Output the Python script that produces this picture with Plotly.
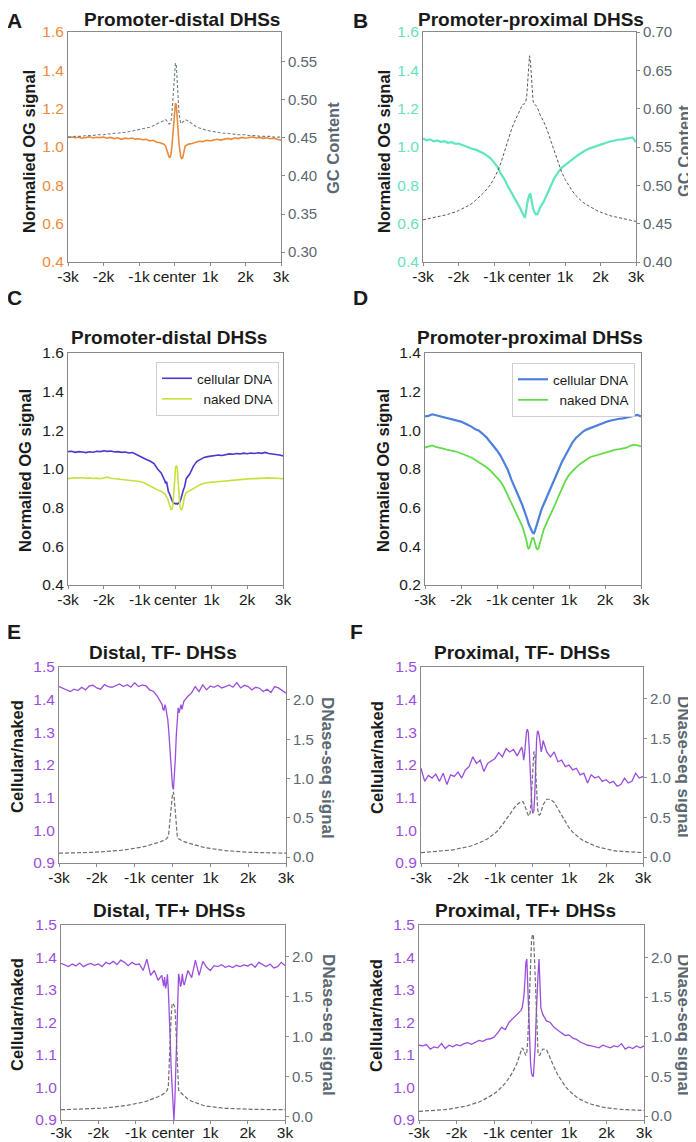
import plotly.graph_objects as go

# The page body adds an 8px margin, so the figure is 8px smaller and all
# reference pixel positions are shifted by that offset.
OFF = 8
W, H = 696 - OFF, 1142 - OFF
FONT = "Liberation Sans, Arial, Helvetica, sans-serif"

# ---------------- data ----------------
pos = [-3000, -2900, -2800, -2700, -2600, -2500, -2400, -2300, -2200, -2100, -2000, -1900, -1800, -1700,
       -1600, -1500, -1400, -1300, -1200, -1100, -1000, -900, -800, -700, -600, -500, -400,
       -300, -275, -250, -225, -200, -175, -150, -125, -100, -75, -50, -25, 0, 25, 50, 75, 100, 125,
       150, 175, 200, 225, 250, 275, 300,
       400, 500, 600, 700, 800, 900, 1000, 1100, 1200, 1300, 1400, 1500, 1600, 1700, 1800, 1900, 2000,
       2100, 2200, 2300, 2400, 2500, 2600, 2700, 2800, 2900, 3000]

xtick_vals = [-3000, -2000, -1000, 0, 1000, 2000, 3000]
xtick_text = ["-3k", "-2k", "-1k", "center", "1k", "2k", "3k"]

# A: promoter-distal OG signal and GC content
og_distal = [1.050, 1.052, 1.048, 1.051, 1.046, 1.050, 1.053, 1.047, 1.051, 1.049, 1.052, 1.046, 1.050, 1.044,
             1.048, 1.040, 1.046, 1.043, 1.047, 1.041, 1.043, 1.038, 1.040, 1.032, 1.035, 1.025, 1.022,
             1.015, 1.012, 1.005, 0.990, 0.972, 0.958, 0.947, 0.946, 0.962, 0.998, 1.060, 1.130, 1.190, 1.225,
             1.222, 1.170, 1.090, 1.020, 0.975, 0.950, 0.940, 0.942, 0.960, 0.985, 1.005,
             1.015, 1.018, 1.025, 1.030, 1.028, 1.035, 1.032, 1.038, 1.040, 1.036, 1.042, 1.045, 1.040, 1.048,
             1.044, 1.050, 1.046, 1.048, 1.052, 1.047, 1.050, 1.045, 1.048, 1.043, 1.046, 1.040, 1.036]
gc_distal = [0.451, 0.451, 0.452, 0.452, 0.452, 0.453, 0.453, 0.453, 0.454, 0.454, 0.454, 0.455, 0.455, 0.456,
             0.456, 0.457, 0.457, 0.458, 0.459, 0.460, 0.461, 0.462, 0.463, 0.464, 0.466, 0.468, 0.470,
             0.472, 0.473, 0.474, 0.473, 0.471, 0.469, 0.468, 0.469, 0.472, 0.480, 0.495, 0.515, 0.535, 0.548,
             0.546, 0.530, 0.505, 0.483, 0.472, 0.469, 0.469, 0.470, 0.472, 0.473, 0.474,
             0.472, 0.468, 0.465, 0.463, 0.461, 0.460, 0.459, 0.458, 0.457, 0.457, 0.456, 0.456, 0.455, 0.455,
             0.454, 0.454, 0.454, 0.453, 0.453, 0.453, 0.452, 0.452, 0.452, 0.452, 0.451, 0.451, 0.451]

# B: promoter-proximal OG signal and GC content
og_proximal = [1.045, 1.035, 1.040, 1.030, 1.034, 1.027, 1.030, 1.022, 1.025, 1.017, 1.018, 1.010, 1.006, 0.995,
               0.990, 0.985, 0.978, 0.968, 0.955, 0.942, 0.920, 0.895, 0.858, 0.830, 0.792, 0.760, 0.730,
               0.695, 0.688, 0.676, 0.665, 0.655, 0.645, 0.638, 0.635, 0.655, 0.690, 0.720, 0.742, 0.752, 0.754,
               0.735, 0.705, 0.680, 0.665, 0.655, 0.650, 0.648, 0.649, 0.660, 0.672, 0.685,
               0.715, 0.755, 0.800, 0.838, 0.866, 0.890, 0.905, 0.918, 0.932, 0.948, 0.962, 0.975, 0.985, 0.993,
               1.000, 1.008, 1.015, 1.020, 1.025, 1.030, 1.035, 1.038, 1.040, 1.042, 1.046, 1.050, 1.025]
gc_proximal = [0.455, 0.456, 0.457, 0.458, 0.459, 0.460, 0.461, 0.462, 0.464, 0.465, 0.467, 0.469, 0.471, 0.474,
               0.477, 0.481, 0.485, 0.490, 0.495, 0.501, 0.509, 0.518, 0.530, 0.545, 0.560, 0.574, 0.585,
               0.594, 0.597, 0.600, 0.603, 0.605, 0.606, 0.606, 0.607, 0.610, 0.618, 0.635, 0.655, 0.669, 0.662,
               0.640, 0.620, 0.610, 0.607, 0.606, 0.605, 0.603, 0.601, 0.598, 0.595, 0.592,
               0.583, 0.572, 0.558, 0.544, 0.530, 0.518, 0.508, 0.500, 0.493, 0.487, 0.482, 0.478, 0.475, 0.472,
               0.469, 0.467, 0.465, 0.463, 0.461, 0.460, 0.459, 0.458, 0.457, 0.456, 0.455, 0.454, 0.453]

# C: promoter-distal, cellular vs naked DNA
c_cellular = [1.090, 1.092, 1.086, 1.090, 1.088, 1.085, 1.089, 1.087, 1.092, 1.090, 1.094, 1.091, 1.093, 1.088,
              1.090, 1.086, 1.088, 1.083, 1.085, 1.075, 1.065, 1.058, 1.048, 1.040, 1.028, 1.000, 0.980,
              0.940, 0.925, 0.935, 0.905, 0.885, 0.875, 0.862, 0.850, 0.838, 0.828, 0.822, 0.823, 0.820, 0.822,
              0.818, 0.822, 0.825, 0.830, 0.845, 0.865, 0.880, 0.895, 0.905, 0.930, 0.950,
              0.975, 1.015, 1.040, 1.052, 1.060, 1.064, 1.066, 1.068, 1.072, 1.070, 1.075, 1.078, 1.076, 1.080,
              1.078, 1.082, 1.079, 1.083, 1.080, 1.084, 1.081, 1.086, 1.080, 1.078, 1.075, 1.072, 1.068]
c_naked = [0.950, 0.952, 0.955, 0.953, 0.956, 0.952, 0.954, 0.951, 0.953, 0.950, 0.955, 0.958, 0.952, 0.950,
           0.947, 0.945, 0.944, 0.942, 0.940, 0.938, 0.935, 0.930, 0.922, 0.912, 0.902, 0.892, 0.885,
           0.872, 0.866, 0.858, 0.848, 0.835, 0.818, 0.800, 0.790, 0.792, 0.810, 0.870, 0.950, 1.005, 1.018,
           1.005, 0.930, 0.850, 0.805, 0.792, 0.790, 0.805, 0.835, 0.855, 0.868, 0.878,
           0.888, 0.900, 0.912, 0.920, 0.926, 0.930, 0.932, 0.933, 0.935, 0.938, 0.940, 0.942, 0.944, 0.945,
           0.946, 0.948, 0.949, 0.950, 0.950, 0.952, 0.951, 0.953, 0.954, 0.952, 0.953, 0.951, 0.950]

# D: promoter-proximal, cellular vs naked DNA
d_cellular = [1.072, 1.075, 1.083, 1.078, 1.074, 1.070, 1.066, 1.060, 1.056, 1.050, 1.045, 1.037, 1.028, 1.018,
              1.005, 0.998, 0.982, 0.965, 0.942, 0.920, 0.896, 0.868, 0.832, 0.796, 0.745, 0.704, 0.662,
              0.615, 0.602, 0.590, 0.578, 0.565, 0.552, 0.535, 0.518, 0.505, 0.495, 0.485, 0.476, 0.470, 0.468,
              0.478, 0.495, 0.512, 0.530, 0.545, 0.558, 0.572, 0.585, 0.597, 0.608, 0.618,
              0.660, 0.705, 0.750, 0.796, 0.835, 0.870, 0.905, 0.938, 0.962, 0.980, 0.995, 1.005, 1.012, 1.020,
              1.030, 1.037, 1.042, 1.048, 1.052, 1.058, 1.060, 1.062, 1.066, 1.070, 1.076, 1.080, 1.072]
d_naked = [0.911, 0.915, 0.922, 0.915, 0.908, 0.905, 0.900, 0.898, 0.893, 0.888, 0.882, 0.874, 0.866, 0.858,
           0.846, 0.838, 0.826, 0.810, 0.795, 0.775, 0.757, 0.735, 0.703, 0.665, 0.623, 0.588, 0.550,
           0.505, 0.492, 0.478, 0.465, 0.448, 0.425, 0.398, 0.388, 0.392, 0.412, 0.432, 0.442, 0.444, 0.438,
           0.420, 0.400, 0.388, 0.384, 0.388, 0.405, 0.425, 0.445, 0.462, 0.475, 0.488,
           0.530, 0.568, 0.610, 0.655, 0.700, 0.738, 0.770, 0.792, 0.808, 0.825, 0.840, 0.850, 0.862, 0.868,
           0.872, 0.876, 0.885, 0.892, 0.896, 0.900, 0.903, 0.906, 0.910, 0.920, 0.926, 0.922, 0.917]

# E (top): distal TF- ; cellular/naked ratio and DNase-seq
ratio_distal_tfneg = [1.440, 1.435, 1.430, 1.425, 1.432, 1.428, 1.438, 1.430, 1.442, 1.444, 1.436, 1.432, 1.446, 1.440,
                      1.438, 1.442, 1.448, 1.440, 1.446, 1.438, 1.452, 1.440, 1.445, 1.442, 1.430, 1.425, 1.410,
                      1.390, 1.385, 1.370, 1.368, 1.385, 1.375, 1.355, 1.340, 1.305, 1.260, 1.215, 1.170, 1.135, 1.125,
                      1.160, 1.220, 1.290, 1.345, 1.375, 1.360, 1.372, 1.385, 1.370, 1.380, 1.395,
                      1.410, 1.420, 1.440, 1.425, 1.445, 1.430, 1.442, 1.438, 1.444, 1.436, 1.440, 1.445, 1.438, 1.452,
                      1.436, 1.444, 1.440, 1.430, 1.438, 1.435, 1.425, 1.432, 1.422, 1.440, 1.436, 1.428, 1.420]
dnase_distal_tfneg = [0.050, 0.050, 0.051, 0.052, 0.053, 0.054, 0.055, 0.057, 0.059, 0.061, 0.063, 0.065, 0.068, 0.071,
                      0.075, 0.079, 0.084, 0.089, 0.095, 0.102, 0.109, 0.118, 0.128, 0.140, 0.152, 0.167, 0.183,
                      0.198, 0.203, 0.208, 0.213, 0.220, 0.228, 0.238, 0.255, 0.300, 0.400, 0.530, 0.680, 0.800, 0.830,
                      0.730, 0.560, 0.380, 0.270, 0.238, 0.228, 0.220, 0.213, 0.207, 0.202, 0.197,
                      0.183, 0.168, 0.153, 0.140, 0.128, 0.118, 0.109, 0.101, 0.094, 0.088, 0.083, 0.078, 0.074, 0.070,
                      0.067, 0.064, 0.062, 0.060, 0.058, 0.056, 0.055, 0.054, 0.053, 0.052, 0.051, 0.050, 0.050]

# F (top): proximal TF-
ratio_prox_tfneg = [1.190, 1.150, 1.168, 1.160, 1.172, 1.150, 1.175, 1.140, 1.170, 1.165, 1.178, 1.160, 1.185, 1.195,
                    1.225, 1.205, 1.215, 1.180, 1.205, 1.212, 1.220, 1.238, 1.225, 1.250, 1.240, 1.248, 1.228,
                    1.250, 1.255, 1.240, 1.215, 1.235, 1.270, 1.300, 1.310, 1.300, 1.250, 1.180, 1.110, 1.065, 1.052,
                    1.060, 1.110, 1.200, 1.280, 1.305, 1.300, 1.285, 1.260, 1.240, 1.255, 1.275,
                    1.240, 1.225, 1.240, 1.210, 1.215, 1.195, 1.200, 1.185, 1.190, 1.170, 1.175, 1.145, 1.170, 1.160,
                    1.165, 1.150, 1.155, 1.145, 1.150, 1.135, 1.140, 1.160, 1.145, 1.150, 1.175, 1.160, 1.165]
dnase_prox_tfneg = [0.055, 0.058, 0.061, 0.064, 0.068, 0.072, 0.077, 0.082, 0.088, 0.095, 0.103, 0.112, 0.122, 0.134,
                    0.148, 0.164, 0.183, 0.205, 0.232, 0.264, 0.300, 0.345, 0.405, 0.470, 0.540, 0.610, 0.665,
                    0.700, 0.705, 0.700, 0.685, 0.660, 0.625, 0.585, 0.550, 0.528, 0.522, 0.560, 0.700, 0.950, 1.200,
                    1.330, 1.320, 1.150, 0.850, 0.620, 0.540, 0.530, 0.545, 0.580, 0.620, 0.660,
                    0.730, 0.730, 0.690, 0.610, 0.520, 0.435, 0.370, 0.315, 0.270, 0.235, 0.205, 0.180, 0.158, 0.140,
                    0.125, 0.112, 0.100, 0.090, 0.082, 0.076, 0.072, 0.068, 0.065, 0.062, 0.060, 0.058, 0.056]

# E (bottom): distal TF+
ratio_distal_tfpos = [1.382, 1.378, 1.372, 1.380, 1.374, 1.383, 1.372, 1.378, 1.382, 1.376, 1.380, 1.372, 1.385, 1.380,
                      1.388, 1.378, 1.392, 1.385, 1.375, 1.385, 1.378, 1.380, 1.360, 1.395, 1.345, 1.360, 1.330,
                      1.345, 1.320, 1.312, 1.340, 1.305, 1.318, 1.348, 1.300, 1.240, 1.150, 1.060, 0.990, 0.930, 0.900,
                      0.960, 1.080, 1.200, 1.290, 1.350, 1.335, 1.310, 1.320, 1.350, 1.325, 1.315,
                      1.360, 1.338, 1.392, 1.345, 1.388, 1.370, 1.360, 1.375, 1.372, 1.378, 1.370, 1.374, 1.369, 1.376,
                      1.372, 1.377, 1.374, 1.380, 1.370, 1.385, 1.378, 1.372, 1.380, 1.368, 1.372, 1.385, 1.375]
dnase_distal_tfpos = [0.084, 0.085, 0.086, 0.087, 0.088, 0.089, 0.091, 0.093, 0.095, 0.097, 0.100, 0.103, 0.107, 0.111,
                      0.116, 0.121, 0.127, 0.134, 0.141, 0.149, 0.158, 0.168, 0.179, 0.192, 0.207, 0.225, 0.247,
                      0.270, 0.277, 0.285, 0.294, 0.305, 0.318, 0.335, 0.380, 0.600, 0.950, 1.250, 1.400, 1.420, 1.400,
                      1.370, 1.150, 0.800, 0.450, 0.330, 0.315, 0.300, 0.288, 0.278, 0.268, 0.260,
                      0.215, 0.190, 0.170, 0.152, 0.140, 0.130, 0.122, 0.116, 0.111, 0.106, 0.102, 0.099, 0.096, 0.094,
                      0.092, 0.091, 0.090, 0.089, 0.088, 0.087, 0.086, 0.086, 0.085, 0.085, 0.084, 0.084, 0.084]

# F (bottom): proximal TF+
ratio_prox_tfpos = [1.130, 1.128, 1.132, 1.118, 1.125, 1.122, 1.135, 1.120, 1.130, 1.125, 1.132, 1.128, 1.135, 1.138,
                    1.133, 1.140, 1.145, 1.142, 1.148, 1.150, 1.155, 1.168, 1.185, 1.178, 1.200, 1.212, 1.222,
                    1.235, 1.238, 1.245, 1.262, 1.285, 1.330, 1.385, 1.395, 1.320, 1.220, 1.130, 1.075, 1.045, 1.035,
                    1.035, 1.070, 1.130, 1.220, 1.300, 1.350, 1.395, 1.300, 1.245, 1.235, 1.225,
                    1.205, 1.200, 1.185, 1.175, 1.168, 1.160, 1.162, 1.152, 1.148, 1.140, 1.135, 1.130, 1.128, 1.125,
                    1.122, 1.130, 1.125, 1.122, 1.128, 1.125, 1.135, 1.118, 1.125, 1.120, 1.128, 1.122, 1.128]
dnase_prox_tfpos = [0.059, 0.061, 0.063, 0.066, 0.069, 0.072, 0.076, 0.081, 0.087, 0.094, 0.102, 0.111, 0.121, 0.132,
                    0.145, 0.160, 0.177, 0.198, 0.222, 0.250, 0.280, 0.315, 0.360, 0.415, 0.480, 0.555, 0.650,
                    0.780, 0.830, 0.860, 0.845, 0.810, 0.775, 0.765, 0.800, 0.950, 1.250, 1.600, 1.950, 2.200, 2.290,
                    2.280, 2.050, 1.700, 1.300, 0.950, 0.790, 0.765, 0.770, 0.800, 0.830, 0.845,
                    0.840, 0.720, 0.620, 0.520, 0.440, 0.375, 0.320, 0.275, 0.240, 0.210, 0.185, 0.165, 0.148, 0.134,
                    0.122, 0.112, 0.104, 0.097, 0.092, 0.087, 0.083, 0.080, 0.077, 0.075, 0.073, 0.071, 0.070]

for s in [og_distal, gc_distal, og_proximal, gc_proximal, c_cellular, c_naked, d_cellular, d_naked,
          ratio_distal_tfneg, dnase_distal_tfneg, ratio_prox_tfneg, dnase_prox_tfneg,
          ratio_distal_tfpos, dnase_distal_tfpos, ratio_prox_tfpos, dnase_prox_tfpos]:
    assert len(s) == len(pos), len(s)

# ---------------- styles ----------------
ORANGE = "#EC8A3A"
GC_A = "#6F7F8A"
CYAN = "#5FE6BE"
GC_B = "#585858"
C_CELL = "#4F36CF"
C_NAKED = "#C8E03C"
D_CELL = "#4C80DA"
D_NAKED = "#62DC48"
PURPLE = "#9A4EDD"
DNASE = "#6E6E6E"
RIGHT_TXT = "#5B6770"
BLACK = "#1A1A1A"
AXIS = "#8A8A8A"

# plot boxes in reference pixels: left, right, top, bottom
boxes = {1: (68, 281, 32, 262), 2: (423, 636, 32, 262),
         3: (68, 283, 353, 585), 4: (425, 641, 353, 585),
         5: (59, 286, 667, 863), 6: (421, 643, 667, 863),
         7: (61, 285, 925, 1120), 8: (419, 644, 925, 1120)}


def px(x):
    return (x - OFF) / W


def py(y):
    return 1 - (y - OFF) / H


fig = go.Figure()


def line(y, xa, ya, color, width, dash="solid", name=None, legend=None):
    fig.add_trace(go.Scatter(x=pos, y=y, xaxis=xa, yaxis=ya, mode="lines",
                             line=dict(color=color, width=width, dash=dash),
                             name=name, showlegend=name is not None,
                             legend=legend if legend else "legend",
                             hoverinfo="skip"))


line(og_distal, "x", "y", ORANGE, 1.6)
line(gc_distal, "x", "y9", GC_A, 1.1, "3px,2px")
line(og_proximal, "x2", "y2", CYAN, 2.2)
line(gc_proximal, "x2", "y10", GC_B, 1.0, "3px,2px")
line(c_cellular, "x3", "y3", C_CELL, 1.6, name="cellular DNA", legend="legend")
line(c_naked, "x3", "y3", C_NAKED, 1.6, name="\u00a0\u2009naked DNA", legend="legend")
line(d_cellular, "x4", "y4", D_CELL, 2.2, name="cellular DNA", legend="legend2")
line(d_naked, "x4", "y4", D_NAKED, 1.8, name="\u00a0\u2009naked DNA", legend="legend2")
line(ratio_distal_tfneg, "x5", "y5", PURPLE, 1.3)
line(dnase_distal_tfneg, "x5", "y11", DNASE, 1.2, "4px,2px")
line(ratio_prox_tfneg, "x6", "y6", PURPLE, 1.3)
line(dnase_prox_tfneg, "x6", "y12", DNASE, 1.2, "4px,2px")
line(ratio_distal_tfpos, "x7", "y7", PURPLE, 1.3)
line(dnase_distal_tfpos, "x7", "y13", DNASE, 1.2, "4px,2px")
line(ratio_prox_tfpos, "x8", "y8", PURPLE, 1.3)
line(dnase_prox_tfpos, "x8", "y14", DNASE, 1.2, "4px,2px")

left_cfg = {1: ([0.4, 1.6], 0.2, ".1f", ORANGE),
            2: ([0.4, 1.6], 0.2, ".1f", "#66E2BE"),
            3: ([0.4, 1.6], 0.2, ".1f", BLACK),
            4: ([0.2, 1.4], 0.2, ".1f", BLACK),
            5: ([0.9, 1.5], 0.1, ".1f", PURPLE),
            6: ([0.9, 1.5], 0.1, ".1f", PURPLE),
            7: ([0.9, 1.5], 0.1, ".1f", PURPLE),
            8: ([0.9, 1.5], 0.1, ".1f", PURPLE)}
# right axis id -> (panel, range, tick0, dtick, format)
right_cfg = {9: (1, [0.287, 0.589], 0.30, 0.05, ".2f"),
             10: (2, [0.40, 0.70], 0.40, 0.05, ".2f"),
             11: (5, [-0.075, 2.42], 0.0, 0.5, ".1f"),
             12: (6, [-0.075, 2.40], 0.0, 0.5, ".1f"),
             13: (7, [-0.045, 2.40], 0.0, 0.5, ".1f"),
             14: (8, [-0.05, 2.41], 0.0, 0.5, ".1f")}

lay = {}
for i, (l, r, t, b) in boxes.items():
    sx = "" if i == 1 else str(i)
    lay["xaxis" + sx] = dict(domain=[px(l), px(r)], anchor="y" + sx, range=[-3000, 3000], automargin=False,
                             tickmode="array", tickvals=xtick_vals, ticktext=xtick_text,
                             ticks="outside", ticklen=3, tickcolor=AXIS, showline=True,
                             linecolor=AXIS, linewidth=1, mirror=True, showgrid=False,
                             ticklabelstandoff=-5 if i >= 7 else -3,
                             zeroline=False, tickfont=dict(size=15.5, color=BLACK, family=FONT))
    rng, dt, fmt, col = left_cfg[i]
    lay["yaxis" + sx] = dict(domain=[py(b), py(t)], anchor="x" + sx, range=rng, tick0=rng[0], dtick=dt,
                             automargin=False,
                             tickformat=fmt, ticks="", showline=True, linecolor=AXIS, linewidth=1,
                             mirror=True, showgrid=False, zeroline=False,
                             tickfont=dict(size=15.5, color=col, family=FONT))
for j, (p, rng, t0, dt, fmt) in right_cfg.items():
    sp = "" if p == 1 else str(p)
    lay["yaxis" + str(j)] = dict(overlaying="y" + sp, side="right", anchor="x" + sp, range=rng,
                                 automargin=False,
                                 tick0=t0, dtick=dt, tickformat=fmt, ticks="outside", ticklen=3,
                                 tickcolor=AXIS, showline=False, showgrid=False, zeroline=False,
                                 tickfont=dict(size=15, color=RIGHT_TXT, family=FONT))


def ann(text, x, y, size, color, angle=0, bold=True, top=False):
    d = dict(text=f"<b>{text}</b>" if bold else text, x=px(x), y=py(y),
             xref="paper", yref="paper", showarrow=False, textangle=angle,
             xanchor="center", yanchor="middle",
             font=dict(size=size, color=color, family=FONT))
    if top:
        # pinned to the very top of the figure so nothing is clipped
        d.update(y=1, yanchor="top", borderpad=0)
    return d


annotations = [
    # panel letters
    ann("A", 14, 0, 21, BLACK, top=True), ann("B", 360, 0, 21, BLACK, top=True),
    ann("C", 14, 298, 21, BLACK), ann("D", 360, 298, 21, BLACK),
    ann("E", 14, 631, 21, BLACK), ann("F", 356, 631, 21, BLACK),
    # titles
    ann("Promoter-distal DHSs", 182, 0, 19, BLACK, top=True),
    ann("Promoter-proximal DHSs", 531, 0, 19, BLACK, top=True),
    ann("Promoter-distal DHSs", 169, 338, 19, BLACK),
    ann("Promoter-proximal DHSs", 530, 338, 19, BLACK),
    ann("Distal, TF- DHSs", 163, 652, 19, BLACK),
    ann("Proximal, TF- DHSs", 522, 652, 19, BLACK),
    ann("Distal, TF+ DHSs", 169, 910, 19, BLACK),
    ann("Proximal, TF+ DHSs", 525, 910, 19, BLACK),
    # left axis titles
    ann("Normalied OG signal", 29, 152, 16.5, BLACK, -90),
    ann("Normalied OG signal", 384, 152, 16.5, BLACK, -90),
    ann("Normalied OG signal", 25, 471, 16.5, BLACK, -90),
    ann("Normalied OG signal", 383, 471, 16.5, BLACK, -90),
    ann("Cellular/naked", 17, 757, 16.5, BLACK, -90),
    ann("Cellular/naked", 377, 757, 16.5, BLACK, -90),
    ann("Cellular/naked", 17, 1015, 16.5, BLACK, -90),
    ann("Cellular/naked", 376, 1015, 16.5, BLACK, -90),
    # right axis titles
    ann("GC Content", 333, 148, 16.5, RIGHT_TXT, -90),
    ann("GC Content", 684, 151, 16.5, RIGHT_TXT, -90),
    ann("DNase-seq signal", 328, 768, 17, RIGHT_TXT, 90),
    ann("DNase-seq signal", 684, 767, 17, RIGHT_TXT, 90),
    ann("DNase-seq signal", 329, 1025, 17, RIGHT_TXT, 90),
    ann("DNase-seq signal", 684, 1025, 17, RIGHT_TXT, 90),
]

legend_style = dict(xanchor="right", yanchor="top", bgcolor="white", bordercolor="#CFCFCF",
                    borderwidth=1, font=dict(size=13.5, color=BLACK, family=FONT),
                    itemwidth=30, tracegroupgap=0)

fig.update_layout(
    width=W, height=H, margin=dict(l=0, r=0, t=0, b=0, autoexpand=False),
    paper_bgcolor="white", plot_bgcolor="white",
    font=dict(family=FONT, color=BLACK),
    annotations=annotations,
    legend=dict(x=px(279), y=py(362), **legend_style),
    legend2=dict(x=px(635), y=py(363), **legend_style),
    **lay,
)

fig.write_html("out.html")
